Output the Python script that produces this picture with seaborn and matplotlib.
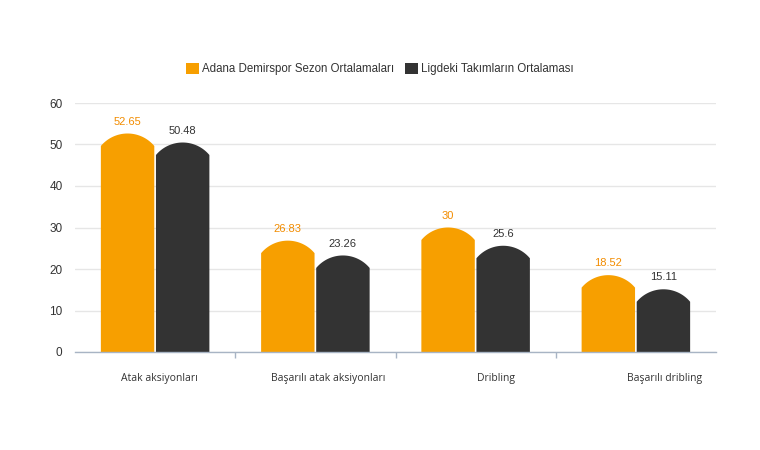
import matplotlib
matplotlib.use("Agg")
import matplotlib.pyplot as plt
import seaborn as sns
import pandas as pd
import numpy as np
from matplotlib.path import Path
from matplotlib.patches import PathPatch, Patch
from matplotlib.transforms import ScaledTranslation

categories = ["Atak aksiyonları", "Başarılı atak aksiyonları", "Dribling", "Başarılı dribling"]
series_names = ["Adana Demirspor Sezon Ortalamaları", "Ligdeki Takımların Ortalaması"]
adana_values = [52.65, 26.83, 30, 18.52]
league_values = [50.48, 23.26, 25.6, 15.11]
y_ticks = [0, 10, 20, 30, 40, 50, 60]
colors = ["#F79F00", "#333333"]
label_colors = ["#F28C00", "#333333"]

df = pd.DataFrame({
    "category": categories * 2,
    "series": [series_names[0]] * 4 + [series_names[1]] * 4,
    "value": adana_values + league_values,
})

sns.set_theme(style="white")
plt.rcParams['font.family'] = ['Liberation Sans', 'DejaVu Sans']

fig = plt.figure(figsize=(7.6, 4.5), dpi=100)
ax = fig.add_axes([75 / 760, 1 - 352 / 450, 641 / 760, 249 / 450])
sns.barplot(data=df, x="category", y="value", hue="series", hue_order=series_names,
            order=categories, palette=colors, width=0.6875, gap=0.03, legend=False,
            ax=ax, saturation=1, edgecolor="none", linewidth=0)
ax.set_xlim(-0.5, 3.5)
ax.set_ylim(0, 60)

fig.canvas.draw()
p0 = ax.transData.transform((0, 0))
p1 = ax.transData.transform((1, 1))
ppx = p1[0] - p0[0]
ppy = p1[1] - p0[1]
sag_px = 12.5
for bar in list(ax.patches):
    x0 = bar.get_x(); w = bar.get_width(); h = bar.get_height()
    fc = bar.get_facecolor()
    half_px = w * ppx / 2
    R = (half_px ** 2 + sag_px ** 2) / (2 * sag_px)
    u = np.linspace(-half_px, half_px, 80)
    dome = np.sqrt(R ** 2 - u ** 2) - (R - sag_px)
    xs = x0 + w / 2 + u / ppx
    ys = h - sag_px / ppy + dome / ppy
    verts = [(x0, 0)] + list(zip(xs, ys)) + [(x0 + w, 0), (x0, 0)]
    codes = [Path.MOVETO] + [Path.LINETO] * (len(verts) - 2) + [Path.CLOSEPOLY]
    bar.remove()
    ax.add_patch(PathPatch(Path(verts, codes), facecolor=fc, edgecolor="none", zorder=2))
    is_orange = fc[0] > 0.8
    ax.annotate(f"{h:g}", (x0 + w / 2, h), xytext=(0, 5), textcoords="offset points",
                ha="center", va="bottom", fontsize=8,
                color=label_colors[0] if is_orange else label_colors[1])

for s in ["top", "left", "right"]:
    ax.spines[s].set_visible(False)
axis_col = "#a8b4c4"
ax.spines["bottom"].set_color(axis_col)
ax.spines["bottom"].set_linewidth(1)

ax.set_yticks(y_ticks)
ax.yaxis.grid(True, color="#e6e6e6", lw=1)
ax.set_axisbelow(True)
ax.tick_params(axis="y", length=0, pad=9, labelsize=8.5, labelcolor="#333333")

ax.set_xticks(range(len(categories)))
ax.set_xticklabels(categories, fontfamily=["Open Sans", "DejaVu Sans"], fontsize=7.5, color="#333333")
ax.tick_params(axis="x", which="major", length=0, pad=15)
ax.set_xticks([0.5, 1.5, 2.5], minor=True)
ax.tick_params(axis="x", which="minor", bottom=True, length=4.5, width=1, color=axis_col, direction="out")
offsets_px = [4, 13, 20, 29]
for lbl, dx in zip(ax.get_xticklabels(), offsets_px):
    lbl.set_transform(lbl.get_transform() + ScaledTranslation(dx / 100, 0, fig.dpi_scale_trans))
ax.set_xlabel("")
ax.set_ylabel("")

handles = [Patch(facecolor=c, edgecolor="none") for c in colors]
leg = fig.legend(handles, series_names, loc="center", bbox_to_anchor=(380 / 760, 1 - 69 / 450),
                 ncol=2, frameon=False, fontsize=8.3, handlelength=1.1, handleheight=1.1,
                 handletextpad=0.3, columnspacing=0.9, labelcolor="#333333")

fig.savefig("out.png", dpi=100)
